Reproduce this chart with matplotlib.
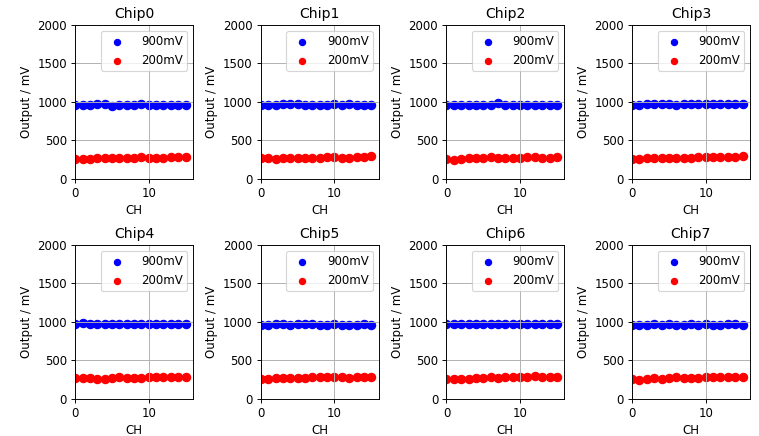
import numpy as np
import matplotlib.pyplot as plt

# channel numbers per chip
ch = np.arange(16)

# output for 900mV input, one list per chip
out_900 = [
    [960, 965, 965, 975, 975, 950, 965, 965, 965, 975, 965, 965, 960, 955, 965, 965],
    [965, 965, 965, 975, 970, 970, 965, 965, 965, 965, 975, 965, 970, 965, 965, 965],
    [965, 965, 965, 965, 965, 965, 965, 980, 965, 965, 965, 965, 965, 965, 965, 965],
    [960, 960, 970, 970, 970, 970, 960, 970, 970, 970, 970, 970, 970, 970, 970, 970],
    [975, 985, 970, 970, 970, 970, 970, 970, 970, 970, 970, 970, 970, 970, 970, 970],
    [965, 955, 970, 970, 960, 970, 970, 970, 965, 965, 970, 965, 960, 965, 970, 960],
    [970, 970, 970, 970, 970, 970, 970, 970, 970, 970, 970, 970, 970, 970, 970, 970],
    [960, 955, 960, 970, 960, 970, 960, 960, 970, 960, 970, 965, 960, 970, 970, 955],
]

# output for 200mV input
out_200 = [
    [255, 255, 260, 270, 270, 265, 270, 270, 275, 280, 275, 275, 275, 280, 285, 285],
    [265, 265, 260, 270, 270, 270, 270, 270, 275, 280, 280, 275, 275, 280, 285, 295],
    [260, 250, 260, 265, 265, 265, 280, 275, 265, 275, 275, 280, 285, 275, 275, 285],
    [260, 260, 265, 270, 270, 270, 270, 270, 275, 285, 285, 285, 285, 285, 285, 295],
    [270, 275, 270, 265, 265, 270, 280, 275, 270, 275, 280, 280, 280, 280, 280, 280],
    [265, 265, 270, 270, 270, 275, 275, 280, 280, 290, 290, 285, 275, 285, 285, 280],
    [255, 255, 265, 260, 270, 270, 280, 275, 280, 280, 280, 285, 295, 285, 280, 280],
    [255, 250, 265, 270, 265, 275, 280, 275, 275, 275, 285, 285, 285, 285, 285, 285],
]

# drawn on a 9in wide figure, scaled down to 759 px
fig, axes = plt.subplots(2, 4, figsize=(9, 9 * 436 / 759), dpi=759 / 9)
for i, ax in enumerate(axes.flat):
    ax.scatter(ch, out_900[i], color="blue", s=50, label="900mV")
    ax.scatter(ch, out_200[i], color="red", s=50, label="200mV")
    ax.set_title("Chip%d" % i)
    ax.set_xlabel("CH", labelpad=3)
    ax.set_ylabel("Output / mV")
    ax.set_xlim(0, 16)
    ax.set_ylim(0, 2000)
    ax.grid()
    ax.legend(loc="upper right", markerscale=0.75, handletextpad=1.1, borderpad=0.35)

plt.subplots_adjust(left=0.099, right=0.988, top=0.943, bottom=0.085, wspace=0.576, hspace=0.43)
plt.savefig("out.png")
